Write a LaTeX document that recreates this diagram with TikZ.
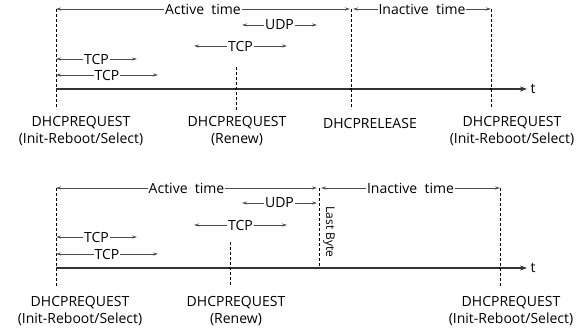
\documentclass[tikz,border=0pt]{standalone}
\usepackage{fontspec}
\setmainfont{Open Sans}
\usetikzlibrary{arrows.meta,
	calc,
	positioning}
\tikzstyle{ev}=[draw, densely dashed, line width=0.6pt]
\tikzstyle{dur}=[{Stealth[length=5pt,width=3pt]}-{Stealth[length=5pt,width=3pt]}, draw=black!70, line width=0.8pt]
\tikzstyle{axis}=[-{Stealth[length=7pt,width=5pt]}, draw=black!80, line width=1.1pt]
\tikzstyle{tag}=[fill=white, inner sep=0.8pt, font=\fontsize{14}{16}\selectfont]
\tikzstyle{evlbl}=[align=center, inner sep=0pt, font=\fontsize{14}{17}\selectfont]
\tikzstyle{mk}=[fill=black, circle, inner sep=0pt, minimum size=2.2pt]

\begin{document}
\begin{tikzpicture}[x=1pt, y=-1pt]
    \useasboundingbox (0,0) rectangle (586,330);

    % upper time line
    \coordinate (a1t) at (56,9);   \coordinate (a1b) at (56,109);
    \coordinate (r1t) at (236,67); \coordinate (r1b) at (236,110);
    \coordinate (l1t) at (351,9);  \coordinate (l1b) at (351,109);
    \coordinate (n1t) at (491,9);  \coordinate (n1b) at (491,109);
    \coordinate (x1s) at (56,89);  \coordinate (x1e) at (527,89);
    \draw[ev] (a1t) -- (a1b);
    \draw[ev] (r1t) -- (r1b);
    \draw[ev] (l1t) -- (l1b);
    \draw[ev] (n1t) -- (n1b);
    \draw[axis] (x1s) -- (x1e) node[right=3pt, inner sep=0pt, font=\fontsize{14}{16}\selectfont] (t1) {t};
    \node[mk] (m1a) at (236,89) {};
    \node[mk] (m1b) at (351,89) {};
    \node[mk] (m1c) at (491,89) {};

    \draw[dur] (a1t) -- node[tag] (act1) {Active\ \ time} (350,9);
    \draw[dur] (353,9) -- node[tag] (ina1) {Inactive\ \ time} (n1t);
    \draw[dur] (242,25) -- node[tag] (udp1) {UDP} (317,25);
    \draw[dur] (194,46) -- node[tag] (tcp1c) {TCP} (287,46);
    \draw[dur] (56,59) -- node[tag] (tcp1a) {TCP} (137,59);
    \draw[dur] (56,75) -- node[tag] (tcp1b) {TCP} (158,75);

    \node[evlbl] (q1a) at (81,131) {DHCPREQUEST\\(Init-Reboot/Select)};
    \node[evlbl] (q1b) at (237,131) {DHCPREQUEST\\(Renew)};
    \node[evlbl] (q1c) at (370,123) {DHCPRELEASE};
    \node[evlbl] (q1d) at (512,131) {DHCPREQUEST\\(Init-Reboot/Select)};

    % lower time line
    \coordinate (a2t) at (56,188);  \coordinate (a2b) at (56,287);
    \coordinate (r2t) at (230,242); \coordinate (r2b) at (230,285);
    \coordinate (b2t) at (319,188); \coordinate (b2b) at (319,268);
    \coordinate (n2t) at (500,188); \coordinate (n2b) at (500,287);
    \coordinate (x2s) at (56,268);  \coordinate (x2e) at (527,268);
    \draw[ev] (a2t) -- (a2b);
    \draw[ev] (r2t) -- (r2b);
    \draw[ev] (b2t) -- (b2b);
    \draw[ev] (n2t) -- (n2b);
    \draw[axis] (x2s) -- (x2e) node[right=3pt, inner sep=0pt, font=\fontsize{14}{16}\selectfont] (t2) {t};
    \node[mk] (m2a) at (230,268) {};
    \node[mk] (m2b) at (500,268) {};

    \draw[dur] (a2t) -- node[tag] (act2) {Active\ \ time} (317,188);
    \draw[dur] (321,188) -- node[tag] (ina2) {Inactive\ \ time} (n2t);
    \draw[dur] (242,203) -- node[tag] (udp2) {UDP} (317,203);
    \draw[dur] (194,225) -- node[tag] (tcp2c) {TCP} (287,225);
    \draw[dur] (56,237) -- node[tag] (tcp2a) {TCP} (137,237);
    \draw[dur] (56,254) -- node[tag] (tcp2b) {TCP} (158,254);
    \node[rotate=-90, inner sep=0pt, font=\fontsize{12}{14}\selectfont] (lb) at (329,232) {Last Byte};

    \node[evlbl] (q2a) at (80,311) {DHCPREQUEST\\(Init-Reboot/Select)};
    \node[evlbl] (q2b) at (236,311) {DHCPREQUEST\\(Renew)};
    \node[evlbl] (q2d) at (511,311) {DHCPREQUEST\\(Init-Reboot/Select)};
\end{tikzpicture}
\end{document}
